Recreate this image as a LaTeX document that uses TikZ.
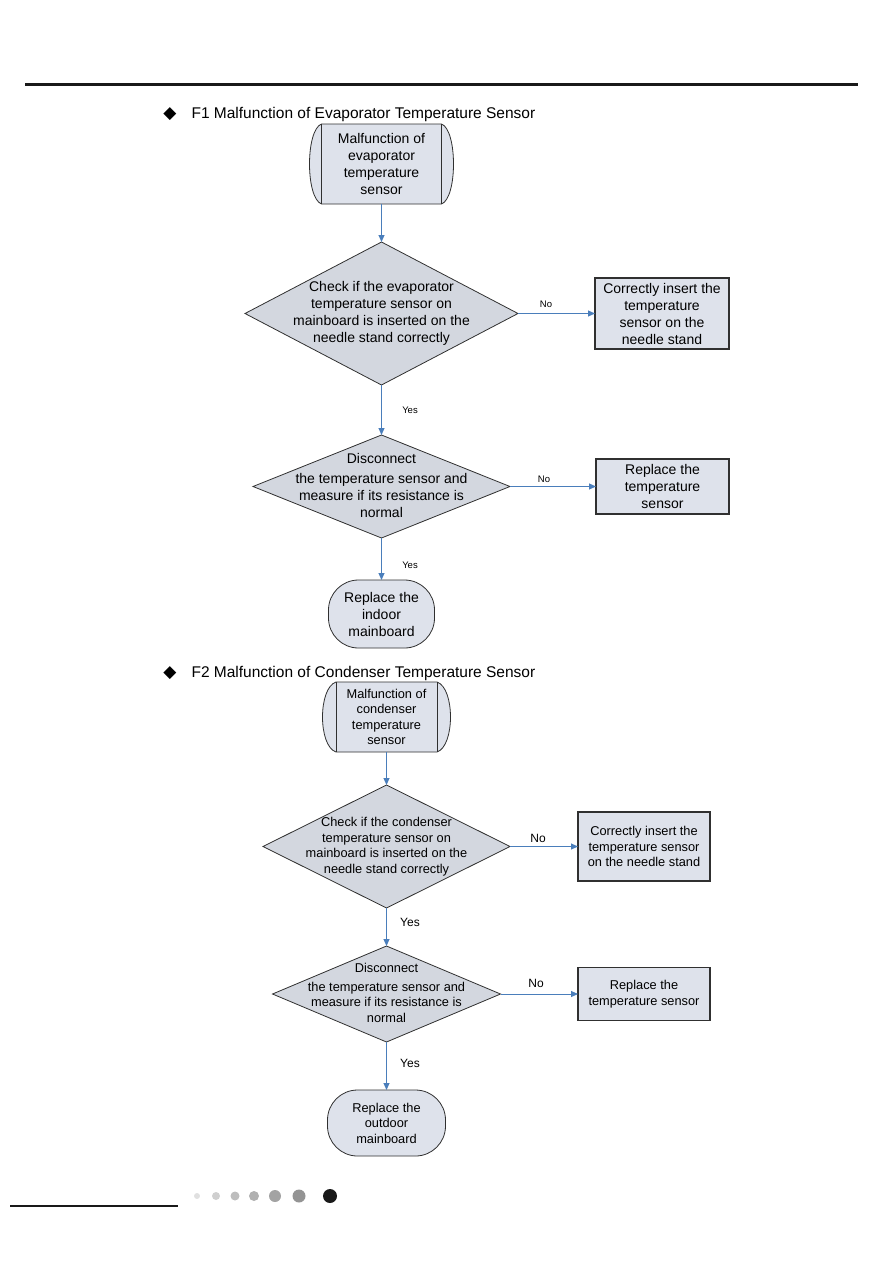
\documentclass[tikz,border=0pt]{standalone}
\usepackage{fontspec}
\setmainfont{Liberation Sans}
\newfontfamily\symfont{DejaVu Sans}
\usetikzlibrary{shapes.geometric,arrows.meta}
\definecolor{arrblue}{HTML}{4A7EBB}
\definecolor{boxfill}{HTML}{DEE2EB}
\definecolor{diafill}{HTML}{D3D7DF}
\definecolor{edge}{HTML}{303030}
\tikzset{
  arr/.style={draw=arrblue,line width=0.9pt,-{Triangle[length=7pt,width=6pt]}},
  dia/.style={diamond,draw=edge,fill=diafill,line width=0.8pt,inner sep=0pt,outer sep=0pt},
  procbox/.style={rectangle,draw=edge,fill=boxfill,line width=1.2pt,inner sep=0pt,outer sep=0pt},
  term/.style={rectangle,rounded corners=30pt,draw=edge,fill=boxfill,line width=0.8pt,inner sep=0pt,outer sep=0pt},
  startin/.style={rectangle,inner sep=0pt,outer sep=0pt},
  txtA/.style={align=center,font=\fontsize{14}{17}\selectfont},
  txtB/.style={align=center,font=\fontsize{12.8}{15.5}\selectfont},
  lblA/.style={font=\fontsize{9.5}{11}\selectfont},
  lblB/.style={font=\fontsize{12}{14}\selectfont},
  head/.style={anchor=west,font=\fontsize{15.5}{18}\selectfont},
  bullet/.style={font=\symfont\fontsize{17}{17}\selectfont},
}
\begin{document}
\begin{tikzpicture}[x=1pt,y=-1pt]
\useasboundingbox (0,0) rectangle (893,1263);
% rules
\draw[line width=3.5pt,color=black!90] (25,84.5) -- (858,84.5);
\draw[line width=2pt,color=black!90] (10,1206) -- (178,1206);
% dots
\fill[black!12] (197,1196) circle (3);
\fill[black!19] (216,1196) circle (4);
\fill[black!26] (235,1196) circle (4.5);
\fill[black!31] (254,1196) circle (5);
\fill[black!36] (275,1196) circle (6);
\fill[black!42] (299,1196) circle (6.5);
\fill[black!90] (330,1196) circle (7);

% ===== F1 =====
\node[bullet] (b1) at (170,114) {◆};
\node[head] (h1) at (188,114) {F1 Malfunction of Evaporator Temperature Sensor};

\node[startin,minimum width=120,minimum height=80] (s1) at (381.5,164) {};
\draw[draw=edge,fill=boxfill,line width=0.8pt]
  (s1.north west) -- (s1.north east) .. controls (457.5,130) and (457.5,198) .. (s1.south east)
  -- (s1.south west) .. controls (305.5,198) and (305.5,130) .. (s1.north west);
\draw[draw=edge,line width=0.8pt] (s1.north west) -- (s1.south west) (s1.north east) -- (s1.south east);
\node[txtA] (s1t) at (s1) {Malfunction of\\evaporator\\temperature\\sensor};

\node[dia,minimum width=273,minimum height=143] (d1) at (381.5,313.5) {};
\node[txtA] (d1t) at (d1) {Check if the evaporator\\temperature sensor on\\mainboard is inserted on the\\needle stand correctly};

\node[procbox,minimum width=134,minimum height=71] (r1) at (662,313.5) {};
\node[txtA] (r1t) at (r1) {Correctly insert the\\temperature\\sensor on the\\needle stand};

\node[dia,minimum width=257,minimum height=103] (d2) at (381.5,486.5) {};
\node[txtA] (d2t) at (381.5,485.5) {Disconnect\\[3pt]the temperature sensor and\\measure if its resistance is\\normal};

\node[procbox,minimum width=133,minimum height=55] (r2) at (662.5,486.5) {};
\node[txtA] (r2t) at (r2) {Replace the\\temperature\\sensor};

\node[term,minimum width=106,minimum height=68] (t1) at (381.5,614) {};
\node[txtA] (t1t) at (t1) {Replace the\\indoor\\mainboard};

\draw[arr] (s1.south) -- (d1.north);
\draw[arr] (d1.east) -- (r1.west);
\draw[arr] (d1.south) -- (d2.north);
\draw[arr] (d2.east) -- (r2.west);
\draw[arr] (d2.south) -- (t1.north);
\node[lblA] (n1) at (546,304) {No};
\node[lblA] (y1) at (410,410) {Yes};
\node[lblA] (n2) at (544,479) {No};
\node[lblA] (y2) at (410,565) {Yes};

% ===== F2 =====
\node[bullet] (b2) at (170,673) {◆};
\node[head] (h2) at (188,673) {F2 Malfunction of Condenser Temperature Sensor};

\node[startin,minimum width=101,minimum height=70] (s2) at (386.5,717) {};
\draw[draw=edge,fill=boxfill,line width=0.8pt]
  (s2.north west) -- (s2.north east) .. controls (455,688) and (455,746) .. (s2.south east)
  -- (s2.south west) .. controls (318,746) and (318,688) .. (s2.north west);
\draw[draw=edge,line width=0.8pt] (s2.north west) -- (s2.south west) (s2.north east) -- (s2.south east);
\node[txtB] (s2t) at (s2) {Malfunction of\\condenser\\temperature\\sensor};

\node[dia,minimum width=247,minimum height=123] (d3) at (386.5,846.5) {};
\node[txtB] (d3t) at (d3) {Check if the condenser\\temperature sensor on\\mainboard is inserted on the\\needle stand correctly};

\node[procbox,minimum width=132,minimum height=69] (r3) at (644,846.5) {};
\node[txtB] (r3t) at (r3) {Correctly insert the\\temperature sensor\\on the needle stand};

\node[dia,minimum width=228,minimum height=96] (d4) at (386.5,994) {};
\node[txtB] (d4t) at (386.5,993) {Disconnect\\[3pt]the temperature sensor and\\measure if its resistance is\\normal};

\node[procbox,minimum width=132,minimum height=53] (r4) at (644,994) {};
\node[txtB] (r4t) at (r4) {Replace the\\temperature sensor};

\node[term,minimum width=118,minimum height=66] (t2) at (386.5,1123) {};
\node[txtB] (t2t) at (t2) {Replace the\\outdoor\\mainboard};

\draw[arr] (s2.south) -- (d3.north);
\draw[arr] (d3.east) -- (r3.west);
\draw[arr] (d3.south) -- (d4.north);
\draw[arr] (d4.east) -- (r4.west);
\draw[arr] (d4.south) -- (t2.north);
\node[lblB] (n3) at (538,838) {No};
\node[lblB] (y3) at (410,922) {Yes};
\node[lblB] (n4) at (536,983) {No};
\node[lblB] (y4) at (410,1063) {Yes};
\end{tikzpicture}
\end{document}
